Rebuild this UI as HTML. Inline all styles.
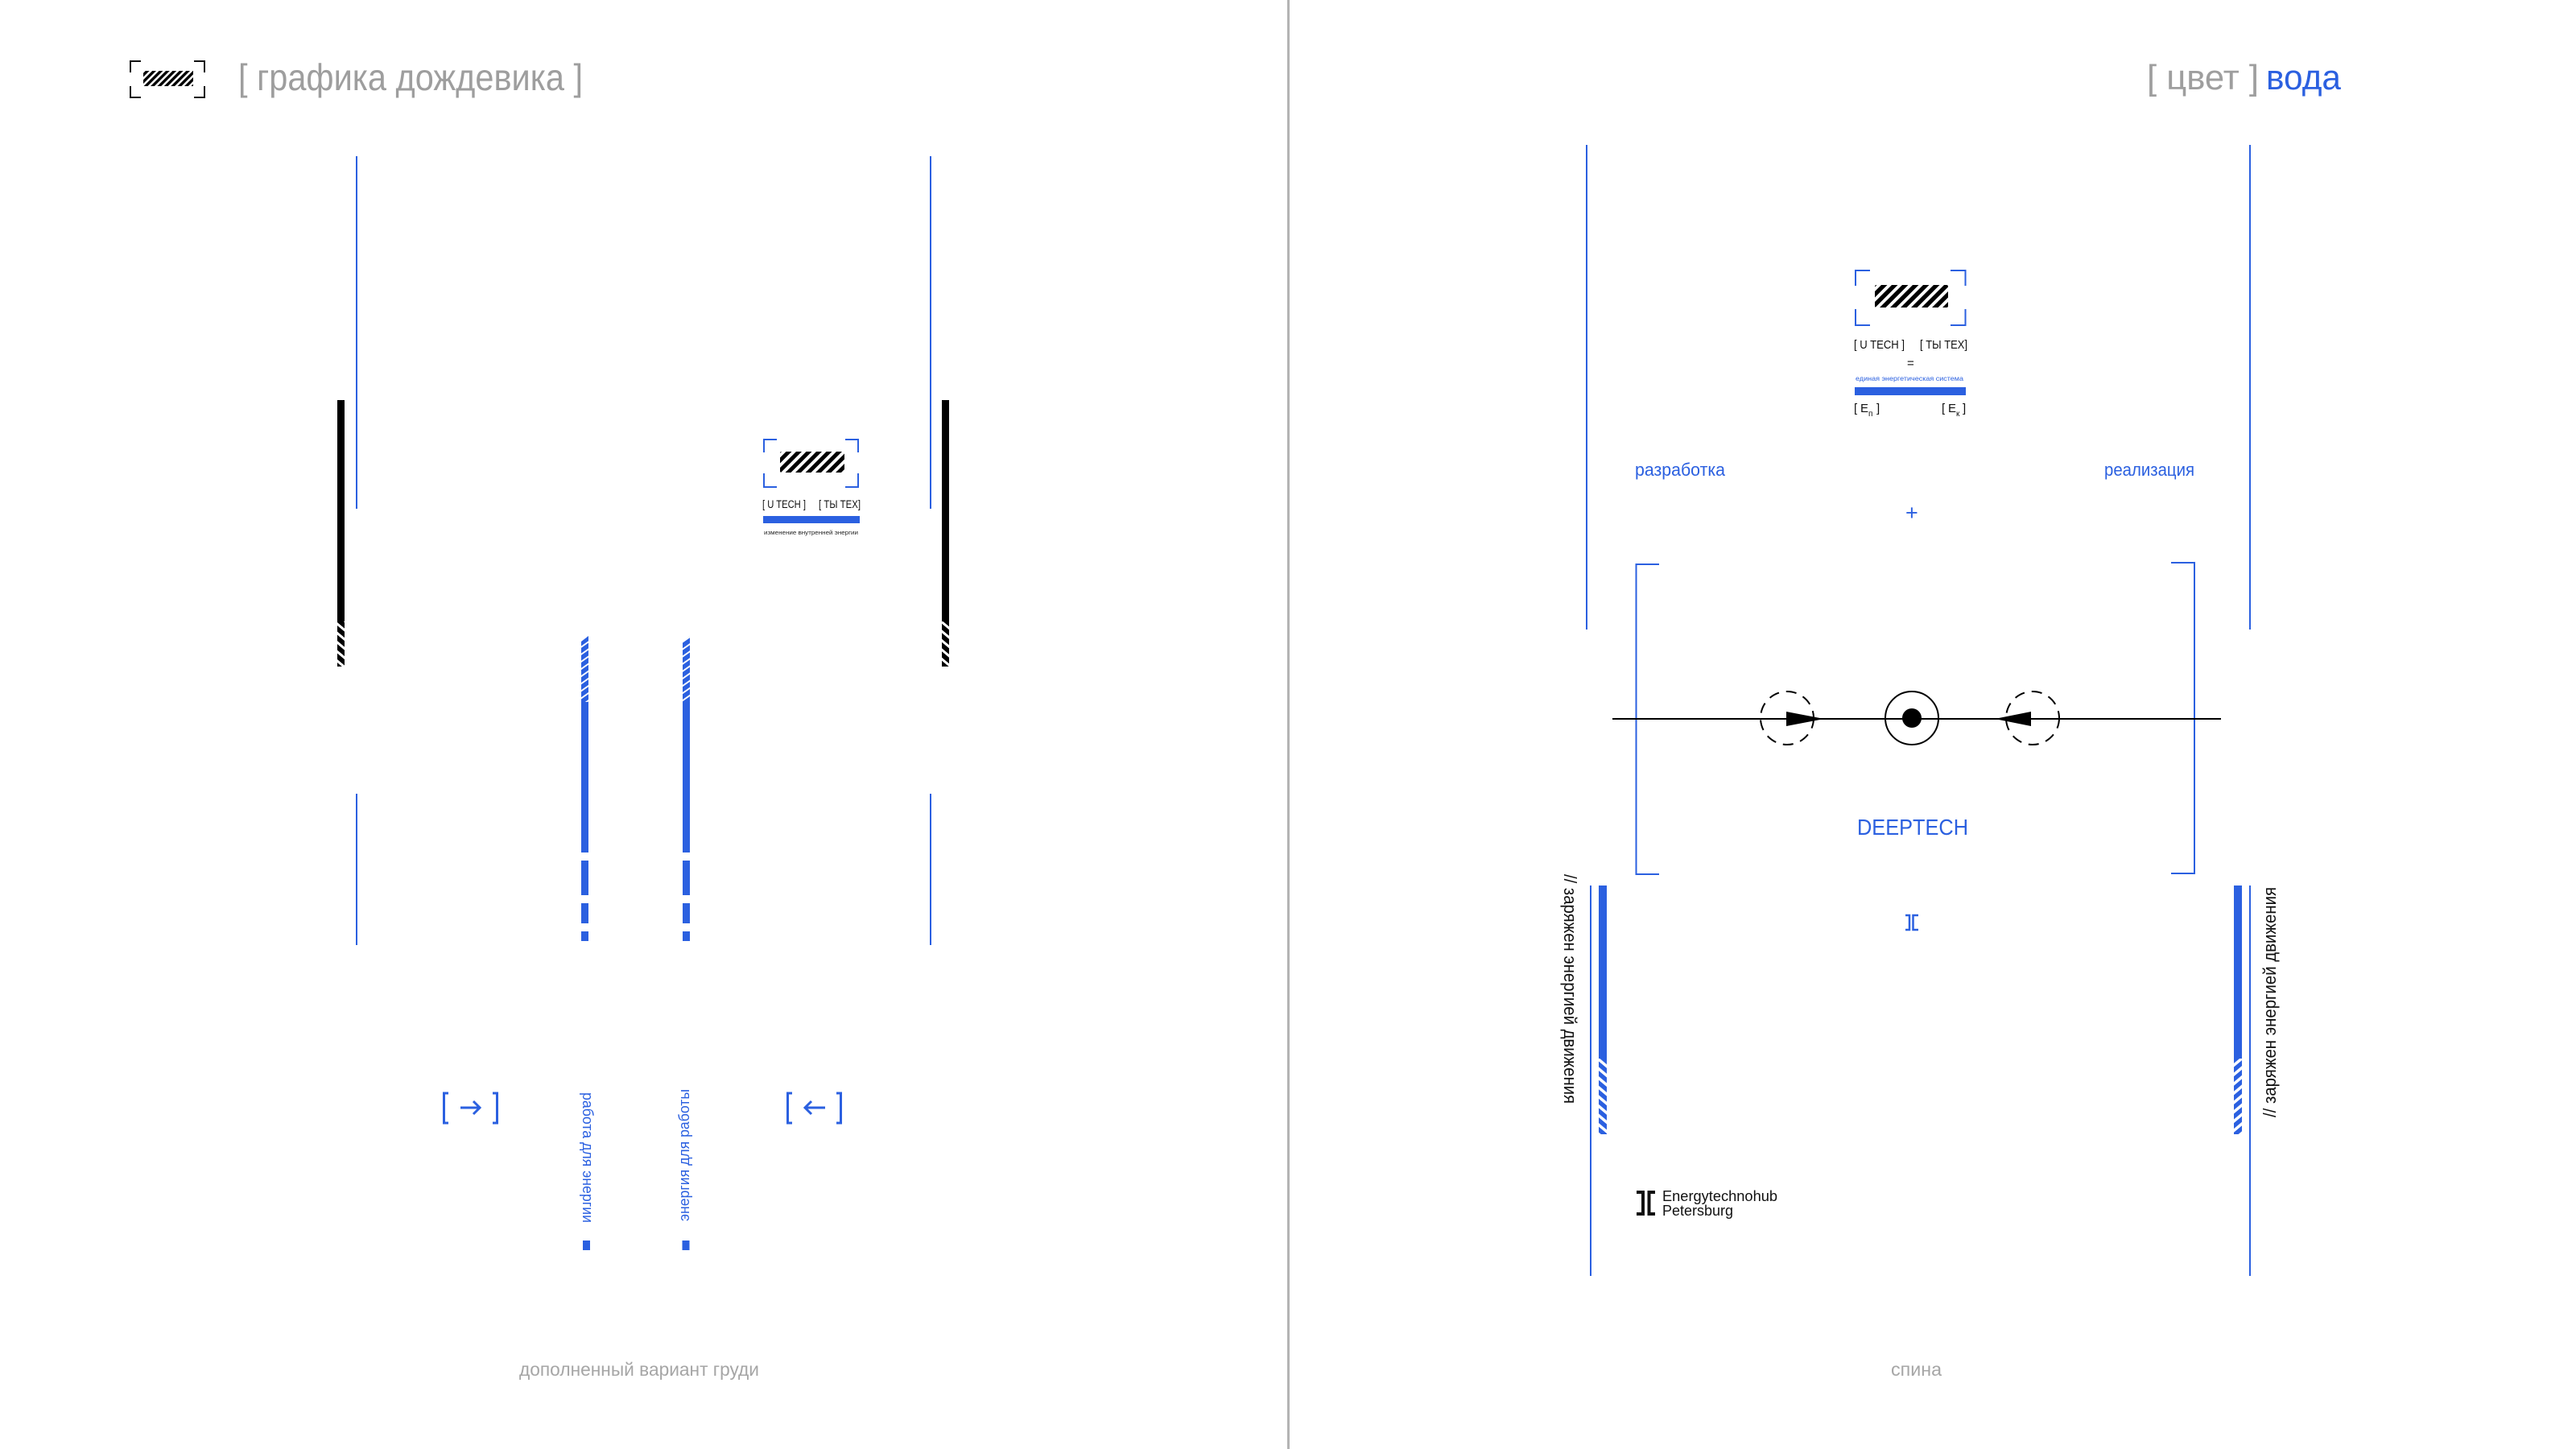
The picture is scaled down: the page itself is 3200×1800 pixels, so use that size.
<!DOCTYPE html>
<html lang="ru"><head><meta charset="utf-8"><title>Диаграмма</title>
<style>html,body{margin:0;padding:0;background:#fff}svg{display:block}text{font-family:"Liberation Sans",sans-serif}</style></head>
<body>
<svg xmlns="http://www.w3.org/2000/svg" width="3200" height="1800" viewBox="0 0 3200 1800">
<defs>
<pattern id="hb" width="12.5" height="10" patternUnits="userSpaceOnUse" patternTransform="skewX(-45)"><rect width="7" height="10" fill="#000"/></pattern>
<pattern id="hb2" width="13" height="10" patternUnits="userSpaceOnUse" patternTransform="skewX(-45)"><rect width="7.5" height="10" fill="#000"/></pattern>
<pattern id="hb3" width="8.4" height="10" patternUnits="userSpaceOnUse" patternTransform="skewX(-45)"><rect width="4.8" height="10" fill="#000"/></pattern>
<pattern id="sk" width="20" height="11.5" patternUnits="userSpaceOnUse" patternTransform="skewY(40)"><rect width="20" height="7.5" fill="#000"/></pattern>
<pattern id="ub" width="20" height="11.6" patternUnits="userSpaceOnUse" patternTransform="skewY(40)"><rect width="20" height="7" fill="#2b60e0"/></pattern>
<pattern id="uf" width="20" height="11.6" patternUnits="userSpaceOnUse" patternTransform="skewY(-40)"><rect width="20" height="7" fill="#2b60e0"/></pattern>
<pattern id="uh" width="20" height="9.1" patternUnits="userSpaceOnUse" patternTransform="skewY(-35)"><rect width="20" height="6.8" fill="#2b60e0"/></pattern>
</defs>
<rect width="3200" height="1800" fill="#fff"/>
<rect x="1599" y="0" width="3" height="1800" fill="#b4b4b4"/>

<!-- header left -->
<g fill="none" stroke="#111" stroke-width="2">
<path d="M175 76H162V90M241 76H254V90M162 107V121H175M254 107V121H241"/>
</g>
<rect x="178" y="88" width="62" height="19" fill="url(#hb3)"/>
<text x="296" y="112" font-size="46" fill="#9e9e9e" textLength="428" lengthAdjust="spacingAndGlyphs">[ графика дождевика ]</text>

<!-- left thin lines -->
<g fill="#2b60e0">
<rect x="442" y="194" width="2" height="438"/><rect x="442" y="986" width="2" height="188"/>
<rect x="1155" y="194" width="2" height="438"/><rect x="1155" y="986" width="2" height="188"/>
</g>
<!-- black bars -->
<rect x="419" y="497" width="9" height="275" fill="#000"/><rect x="419" y="772" width="9" height="56" fill="url(#sk)"/>
<rect x="1170" y="497" width="9" height="275" fill="#000"/><rect x="1170" y="772" width="9" height="56" fill="url(#sk)"/>
<!-- blue double bars -->
<g fill="#2b60e0">
<rect x="722" y="872" width="9" height="187"/><rect x="722" y="1069" width="9" height="43"/><rect x="722" y="1122" width="9" height="25"/><rect x="722" y="1157" width="9" height="12"/>
<rect x="848" y="872" width="9" height="187"/><rect x="848" y="1069" width="9" height="43"/><rect x="848" y="1122" width="9" height="25"/><rect x="848" y="1157" width="9" height="12"/>
<rect x="724" y="1541" width="9" height="12"/><rect x="847.5" y="1541" width="9" height="12"/>
</g>
<path d="M722 797L731 790V872H722Z" fill="url(#uh)"/>
<path d="M848 797L857 790V872H848Z" fill="url(#uh)"/>

<!-- small box -->
<g fill="none" stroke="#2b60e0" stroke-width="2">
<path d="M965 546H949V562M1050 546H1066V562M949 588V605H965M1066 588V605H1050"/>
</g>
<rect x="969" y="561" width="80" height="26" rx="2" fill="url(#hb)"/>
<text x="947" y="631" font-size="13.5" fill="#111" textLength="54" lengthAdjust="spacingAndGlyphs">[ U TECH ]</text>
<text x="1017" y="631" font-size="13.5" fill="#111" textLength="52" lengthAdjust="spacingAndGlyphs">[ ТЫ ТЕХ]</text>
<rect x="948" y="641" width="120" height="9" fill="#2b60e0"/>
<text x="949" y="664" font-size="7.5" fill="#222" textLength="117" lengthAdjust="spacingAndGlyphs">изменение внутренней энергии</text>

<!-- arrows -->
<g fill="none" stroke="#2b60e0" stroke-width="3">
<path d="M557 1358H551.5V1395H557M612 1358H617.5V1395H612"/>
<path d="M572 1376H596M588 1368L596 1376L588 1384"/>
<path d="M984 1358H978.5V1395H984M1039 1358H1044.5V1395H1039"/>
<path d="M1025 1376H1000M1008 1368L1000 1376L1008 1384"/>
</g>
<text transform="translate(724,1357) rotate(90)" font-size="18.5" fill="#2b60e0" textLength="162" lengthAdjust="spacingAndGlyphs">работа для энергии</text>
<text transform="translate(856,1517) rotate(-90)" font-size="18.5" fill="#2b60e0" textLength="164" lengthAdjust="spacingAndGlyphs">энергия для работы</text>

<text x="645" y="1709" font-size="23" fill="#a6a6a6" textLength="298" lengthAdjust="spacingAndGlyphs">дополненный вариант груди</text>

<!-- header right -->
<text x="2667" y="111" font-size="44" fill="#9e9e9e" textLength="139" lengthAdjust="spacingAndGlyphs">[ цвет ]</text>
<text x="2815" y="111" font-size="44" fill="#2b60e0" textLength="93" lengthAdjust="spacingAndGlyphs">вода</text>

<!-- right thin -->
<g fill="#2b60e0">
<rect x="1970" y="180" width="2" height="602"/><rect x="2794" y="180" width="2" height="602"/>
<rect x="1975" y="1100" width="2" height="485"/><rect x="2794" y="1100" width="2" height="485"/>
<rect x="1986" y="1100" width="10" height="215"/><rect x="2775" y="1100" width="10" height="215"/>
</g>
<rect x="1986" y="1315" width="10" height="94" fill="url(#ub)"/>
<rect x="2775" y="1315" width="10" height="94" fill="url(#uf)"/>

<!-- big box -->
<g fill="none" stroke="#2b60e0" stroke-width="2">
<path d="M2323 336H2305V355M2423 336H2441.5V355M2305 384V404H2323M2441.5 384V404H2423"/>
</g>
<rect x="2329" y="354" width="91" height="28" rx="2" fill="url(#hb2)"/>
<text x="2303" y="433" font-size="14.5" fill="#111" textLength="63" lengthAdjust="spacingAndGlyphs">[ U TECH ]</text>
<text x="2385" y="433" font-size="14.5" fill="#111" textLength="59" lengthAdjust="spacingAndGlyphs">[ ТЫ ТЕХ]</text>
<text x="2369" y="456" font-size="15" fill="#111">=</text>
<text x="2305" y="473" font-size="8.5" fill="#2b60e0" textLength="134" lengthAdjust="spacingAndGlyphs">единая энергетическая система</text>
<rect x="2304" y="481" width="138" height="10" fill="#2b60e0"/>
<g font-size="15" fill="#111">
<text x="2303" y="512">[</text><text x="2311" y="512">E</text><text x="2321" y="517" font-size="10">п</text><text x="2331" y="512">]</text>
<text x="2412" y="512">[</text><text x="2420" y="512">E</text><text x="2430" y="517" font-size="10">к</text><text x="2438" y="512">]</text>
</g>
<text x="2031" y="591" font-size="22" fill="#2b60e0" textLength="112" lengthAdjust="spacingAndGlyphs">разработка</text>
<text x="2614" y="591" font-size="22" fill="#2b60e0" textLength="112" lengthAdjust="spacingAndGlyphs">реализация</text>
<text x="2367" y="646" font-size="27" fill="#2b60e0">+</text>

<!-- bracket -->
<g fill="none" stroke="#2b60e0" stroke-width="2">
<path d="M2061 701H2032.5V1086H2061"/>
<path d="M2697 699H2726V1085H2697"/>
</g>
<!-- field -->
<path d="M2003 893H2759" stroke="#000" stroke-width="2" fill="none"/>
<circle cx="2375" cy="892" r="33" fill="none" stroke="#000" stroke-width="2"/>
<circle cx="2375" cy="892" r="12" fill="#000"/>
<circle cx="2220" cy="892" r="33" fill="none" stroke="#000" stroke-width="2" stroke-dasharray="13 9"/>
<circle cx="2525" cy="892" r="33" fill="none" stroke="#000" stroke-width="2" stroke-dasharray="13 9"/>
<path d="M2219 884L2266 893L2219 902Z" fill="#000"/>
<path d="M2523 884L2478 893L2523 902Z" fill="#000"/>
<text x="2307" y="1037" font-size="28" fill="#2b60e0" textLength="138" lengthAdjust="spacingAndGlyphs">DEEPTECH</text>

<!-- small logo -->
<g fill="none" stroke="#2b60e0" stroke-width="2.5">
<path d="M2367 1137H2372V1155H2367M2383 1137H2376.5V1155H2383"/>
</g>

<!-- rotated labels -->
<text transform="translate(1943,1086) rotate(90)" font-size="22" fill="#111" textLength="285" lengthAdjust="spacingAndGlyphs">// заряжен энергией движения</text>
<text transform="translate(2827,1388) rotate(-90)" font-size="22" fill="#111" textLength="286" lengthAdjust="spacingAndGlyphs">// заряжен энергией движения</text>

<!-- logo -->
<g fill="none" stroke="#111" stroke-width="4">
<path d="M2033 1481H2041V1508H2033"/>
<path d="M2056 1481H2048.5V1508H2056"/>
</g>
<text x="2065" y="1492" font-size="18.5" fill="#111" textLength="143" lengthAdjust="spacingAndGlyphs">Energytechnohub</text>
<text x="2065" y="1510" font-size="18.5" fill="#111" textLength="88" lengthAdjust="spacingAndGlyphs">Petersburg</text>

<text x="2349" y="1709" font-size="23" fill="#a6a6a6" textLength="63" lengthAdjust="spacingAndGlyphs">спина</text>
</svg>
</body></html>
